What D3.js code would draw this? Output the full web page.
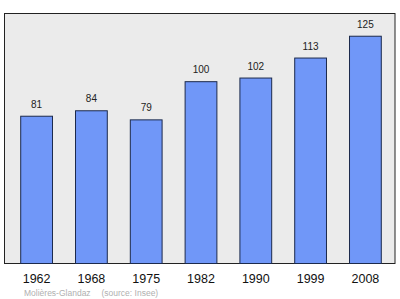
<!DOCTYPE html>
<html>
<head>
<meta charset="utf-8">
<script src="https://d3js.org/d3.v7.min.js"></script>
<style>
  body { margin: 0; background: #fff; }
  text { font-family: "Liberation Sans", Arial, sans-serif; }
</style>
</head>
<body>
<script>

var years = ["1962", "1968", "1975", "1982", "1990", "1999", "2008"];
var population = [81, 84, 79, 100, 102, 113, 125];
var place = "Molières-Glandaz";
var source = "(source: Insee)";

var width = 400, height = 299;

var svg = d3.select("body").append("svg")
    .attr("width", width)
    .attr("height", height);

var x = d3.scaleBand()
    .domain(years)
    .range([9.2, 392.8])
    .paddingInner(0.42)
    .paddingOuter(0.21);

var y = d3.scaleLinear()
    .domain([0, 137.5])
    .range([263.5, 13.5]);

// frame
svg.append("rect")
    .attr("x", 4.5)
    .attr("y", 13.5)
    .attr("width", 390.5)
    .attr("height", 250)
    .style("fill", "#ebebeb")
    .style("stroke", "#222")
    .style("stroke-width", 1);

svg.selectAll(".bar")
    .data(population)
  .enter().append("rect")
    .attr("class", "bar")
    .attr("x", function(d, i) { return x(years[i]); })
    .attr("y", function(d) { return y(d); })
    .attr("width", x.bandwidth())
    .attr("height", function(d) { return y(0) - y(d); })
    .style("fill", "#7097f8")
    .style("stroke", "#1c2a4c")
    .style("stroke-width", 1);

svg.selectAll(".val")
    .data(population)
  .enter().append("text")
    .attr("class", "val")
    .attr("x", function(d, i) { return x(years[i]) + x.bandwidth() / 2; })
    .attr("y", function(d) { return y(d) - 8.5; })
    .attr("text-anchor", "middle")
    .style("font-size", "10px")
    .style("fill", "#222")
    .text(function(d) { return d; });

var xAxis = svg.append("g")
    .attr("transform", "translate(0," + y(0) + ")")
    .call(d3.axisBottom(x).tickSize(0).tickPadding(10.5));
xAxis.select(".domain").remove();
xAxis.selectAll("text")
    .style("font-size", "12.5px")
    .style("font-family", "Liberation Sans, Arial, sans-serif")
    .style("fill", "#111");

svg.append("text")
    .attr("x", 24)
    .attr("y", 295.5)
    .style("font-size", "8.5px")
    .style("fill", "#b0b0b0")
    .text(place);

svg.append("text")
    .attr("x", 101.5)
    .attr("y", 295.5)
    .style("font-size", "8.5px")
    .style("fill", "#b0b0b0")
    .text(source);

</script>
</body>
</html>
